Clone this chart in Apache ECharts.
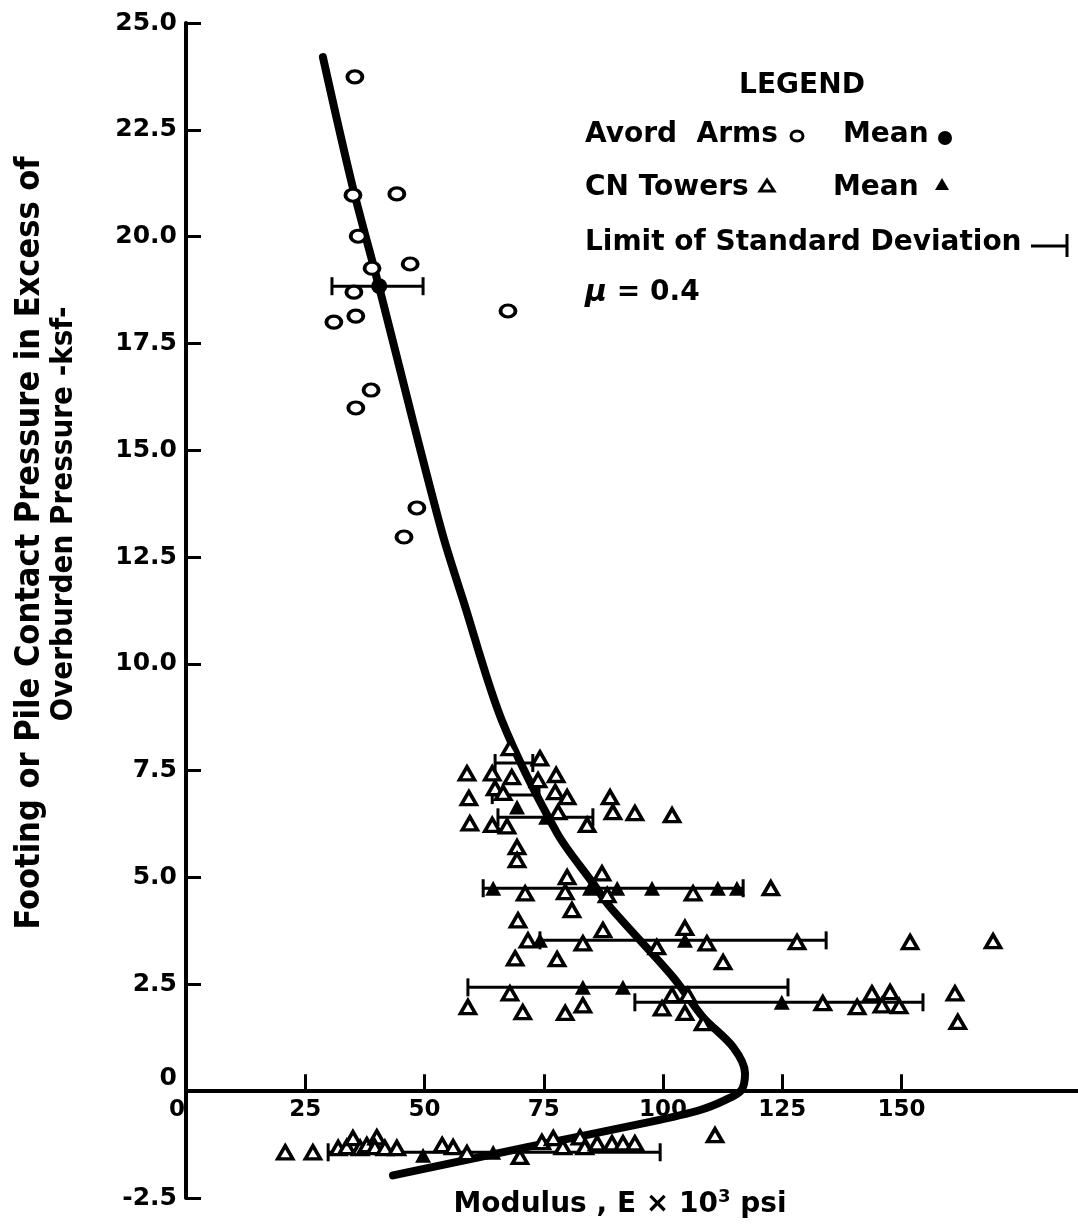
<!DOCTYPE html>
<html>
<head>
<meta charset="utf-8">
<script src="https://cdn.jsdelivr.net/npm/echarts@6/dist/echarts.min.js"></script>
<style>
html, body { margin: 0; padding: 0; background: #fff; }
#chart { width: 1078px; height: 1230px; }
</style>
</head>
<body>
<div id="chart"></div>
<script>
// Avord Arms - open circles
var avordX = [35.4, 35.0, 44.2, 36.1, 39.0, 47.0, 35.2, 35.6, 31.0, 67.5, 38.8, 35.6, 48.4, 45.7];
var avordY = [23.74, 20.97, 21.0, 20.01, 19.26, 19.36, 18.70, 18.14, 18.0, 18.26, 16.41, 15.99, 13.65, 12.97];
var avordMeanX = [40.5];
var avordMeanY = [18.84];

// CN Towers - open triangles
var cnX = [67.9, 74.2, 58.9, 64.2, 68.3, 73.8, 77.6, 59.3, 64.8, 66.5, 77.4, 79.9, 88.9, 78.0, 89.5, 94.1, 101.9,
  59.5, 64.2, 67.3, 84.1, 69.4, 69.4, 79.9, 87.2,
  71.1, 79.5, 88.3, 106.3, 122.6, 80.9, 69.6,
  71.7, 83.2, 87.4, 98.7, 104.6, 109.2, 128.1, 151.8, 169.2, 112.6, 69.0, 77.8,
  67.9, 59.1, 70.6, 79.5, 83.2, 101.9, 105.2, 99.8, 104.6, 108.4,
  133.5, 140.7, 143.8, 145.9, 147.6, 149.5, 161.2, 161.8,
  20.8, 26.6, 31.9, 33.7, 35.0, 36.5, 37.9, 40.0, 39.6, 41.7, 44.2, 53.7, 56.0, 58.9,
  70.0, 74.6, 77.0, 79.0, 82.6, 83.6, 86.2, 89.3, 91.6, 94.1, 110.9];
var cnY = [8.03, 7.79, 7.44, 7.44, 7.35, 7.28, 7.40, 6.86, 7.09, 6.98, 7.00, 6.88, 6.88, 6.53, 6.53, 6.51, 6.46,
  6.27, 6.23, 6.20, 6.23, 5.71, 5.41, 5.01, 5.10,
  4.63, 4.66, 4.59, 4.63, 4.75, 4.24, 4.00,
  3.53, 3.46, 3.77, 3.37, 3.82, 3.46, 3.49, 3.49, 3.51, 3.02, 3.11, 3.09,
  2.29, 1.97, 1.85, 1.83, 2.01, 2.25, 2.25, 1.94, 1.83, 1.59,
  2.06, 1.97, 2.29, 2.01, 2.32, 1.99, 2.29, 1.62,
  -1.43, -1.43, -1.33, -1.31, -1.10, -1.33, -1.26, -1.08, -1.31, -1.33, -1.33, -1.26, -1.31, -1.45,
  -1.54, -1.19, -1.10, -1.31, -1.08, -1.31, -1.22, -1.22, -1.22, -1.22, -1.03];

// CN Towers - means and points sitting on the bars (drawn solid)
var cnMeanX = [75.5, 90.4, 104.6, 91.6, 124.9, 64.4, 69.4, 64.4, 84.7, 97.7, 111.5, 115.5, 74.2, 83.2, 49.7];
var cnMeanY = [6.41, 4.75, 3.53, 2.43, 2.08, -1.43, 6.65, 4.75, 4.75, 4.75, 4.75, 4.75, 3.53, 2.43, -1.50];

// limit of standard deviation bars
var barY = [18.84, 7.68, 6.93, 6.41, 4.75, 3.53, 2.43, 2.08, -1.43];
var barLow = [30.6, 64.8, 64.2, 65.4, 62.3, 74.2, 59.1, 94.1, 29.8];
var barHigh = [49.7, 72.7, 74.0, 85.3, 116.8, 134.2, 126.2, 154.5, 99.4];

// fitted curve, read top to bottom
var curveX = [28.7, 34.8, 40.7, 47.6, 53.9, 58.1, 66.2, 77.8, 85.3, 88.9, 102.1, 108.4, 114.7, 117.2, 116.4, 113.0, 107.8, 97.3, 71.5, 43.4];
var curveY = [24.2, 21.23, 18.73, 15.68, 12.99, 11.49, 8.68, 6.04, 4.87, 4.31, 2.67, 1.73, 1.03, 0.42, 0.02, -0.21, -0.44, -0.72, -1.31, -1.97];

var xLabelVals = [0, 25, 50, 75, 100, 125, 150];
var xTickVals = [25, 50, 75, 100, 125, 150];

function pairs(xs, ys) {
  return xs.map(function (x, i) { return [x, ys[i]]; });
}

var font = 'DejaVu Sans';
var black = '#000';

var myChart = echarts.init(document.getElementById('chart'));

var option = {
  backgroundColor: '#fff',
  animation: false,
  grid: { left: 186, right: 0, top: 23, bottom: 32 },
  xAxis: {
    type: 'value',
    min: 0,
    max: 187,
    z: 10,
    splitLine: { show: false },
    axisLine: { onZero: true, lineStyle: { color: black, width: 4 } },
    axisTick: { inside: true, length: 17, customValues: xTickVals, lineStyle: { color: black, width: 3 } },
    axisLabel: {
      customValues: xLabelVals,
      margin: -99, // labels hang under the zero line, not the grid edge
      color: black,
      fontFamily: font,
      fontWeight: 'bold',
      fontSize: 23,
      formatter: function (v) { return v === 0 ? '{z|0}' : String(v); },
      rich: { z: { padding: [0, 18, 0, 0], fontFamily: font, fontWeight: 'bold', fontSize: 23, color: black } }
    }
  },
  yAxis: {
    type: 'value',
    min: -2.5,
    max: 25,
    interval: 2.5,
    splitLine: { show: false },
    axisLine: { lineStyle: { color: black, width: 4 } },
    axisTick: { inside: true, length: 15, lineStyle: { color: black, width: 3 } },
    axisLabel: {
      margin: 9,
      color: black,
      fontFamily: font,
      fontWeight: 'bold',
      fontSize: 25,
      formatter: function (v) { return v === 0 ? '{z|0}' : v.toFixed(1); },
      rich: { z: { padding: [0, 0, 26, 0], fontFamily: font, fontWeight: 'bold', fontSize: 25, color: black } }
    }
  },
  series: [
    {
      name: 'curve',
      type: 'line',
      smooth: 0.3,
      showSymbol: false,
      z: 2,
      lineStyle: { color: black, width: 8, cap: 'round' },
      data: pairs(curveX, curveY)
    },
    {
      name: 'sd',
      type: 'custom',
      z: 3,
      encode: { x: [1, 2], y: 0 },
      renderItem: function (params, api) {
        var y = api.value(0);
        var a = api.coord([api.value(1), y]);
        var b = api.coord([api.value(2), y]);
        var h = 9;
        var st = { stroke: black, lineWidth: 3 };
        return {
          type: 'group',
          children: [
            { type: 'line', shape: { x1: a[0], y1: a[1], x2: b[0], y2: b[1] }, style: st },
            { type: 'line', shape: { x1: a[0], y1: a[1] - h, x2: a[0], y2: a[1] + h }, style: st },
            { type: 'line', shape: { x1: b[0], y1: b[1] - h, x2: b[0], y2: b[1] + h }, style: st }
          ]
        };
      },
      data: barY.map(function (y, i) { return [y, barLow[i], barHigh[i]]; })
    },
    {
      name: 'Avord Arms',
      type: 'scatter',
      z: 4,
      symbol: 'circle',
      symbolSize: [15, 12],
      itemStyle: { color: '#fff', borderColor: black, borderWidth: 3.5, opacity: 1 },
      data: pairs(avordX, avordY)
    },
    {
      name: 'Avord Mean',
      type: 'scatter',
      z: 5,
      symbol: 'circle',
      symbolSize: 16,
      itemStyle: { color: black, opacity: 1 },
      data: pairs(avordMeanX, avordMeanY)
    },
    {
      name: 'CN Towers',
      type: 'scatter',
      z: 4,
      symbol: 'triangle',
      symbolSize: [15, 13],
      itemStyle: { color: '#fff', borderColor: black, borderWidth: 3.5, opacity: 1 },
      data: pairs(cnX, cnY)
    },
    {
      name: 'CN Mean',
      type: 'scatter',
      z: 5,
      symbol: 'triangle',
      symbolSize: [16, 15],
      itemStyle: { color: black, opacity: 1 },
      data: pairs(cnMeanX, cnMeanY)
    }
  ],
  graphic: [
    // y axis title
    {
      type: 'text', x: 30, y: 543, rotation: Math.PI / 2,
      style: { text: 'Footing or Pile Contact Pressure in Excess of', fill: black,
        font: 'bold 34px "DejaVu Sans Condensed", "DejaVu Sans"', textAlign: 'center', textVerticalAlign: 'middle' }
    },
    {
      type: 'text', x: 64, y: 514, rotation: Math.PI / 2,
      style: { text: 'Overburden Pressure -ksf-', fill: black,
        font: 'bold 31px "DejaVu Sans Condensed", "DejaVu Sans"', textAlign: 'center', textVerticalAlign: 'middle' }
    },
    // x axis title
    {
      type: 'text', x: 620, y: 1205,
      style: {
        text: '{a|Modulus , E × 10}{s|3}{a| psi}',
        textAlign: 'center', textVerticalAlign: 'middle',
        rich: {
          a: { fontFamily: font, fontWeight: 'bold', fontSize: 28, fill: black },
          s: { fontFamily: font, fontWeight: 'bold', fontSize: 18, fill: black, padding: [0, 0, 16, 0] }
        }
      }
    },
    // legend block
    { type: 'text', x: 802, y: 86, style: { text: 'LEGEND', fill: black, font: 'bold 28px "DejaVu Sans"', textAlign: 'center', textVerticalAlign: 'middle' } },
    { type: 'text', x: 585, y: 135, style: { text: 'Avord  Arms', fill: black, font: 'bold 28px "DejaVu Sans"', textVerticalAlign: 'middle' } },
    { type: 'ellipse', shape: { cx: 797, cy: 136, rx: 6, ry: 5 }, style: { fill: '#fff', stroke: black, lineWidth: 3 } },
    { type: 'text', x: 843, y: 135, style: { text: 'Mean', fill: black, font: 'bold 28px "DejaVu Sans"', textVerticalAlign: 'middle' } },
    { type: 'circle', shape: { cx: 945, cy: 138, r: 7 }, style: { fill: black } },
    { type: 'text', x: 585, y: 188, style: { text: 'CN Towers', fill: black, font: 'bold 28px "DejaVu Sans"', textVerticalAlign: 'middle' } },
    { type: 'polygon', shape: { points: [[767, 180], [774, 191], [760, 191]] }, style: { fill: '#fff', stroke: black, lineWidth: 3 } },
    { type: 'text', x: 833, y: 188, style: { text: 'Mean', fill: black, font: 'bold 28px "DejaVu Sans"', textVerticalAlign: 'middle' } },
    { type: 'polygon', shape: { points: [[942, 178], [949, 190], [935, 190]] }, style: { fill: black } },
    { type: 'text', x: 585, y: 243, style: { text: 'Limit of Standard Deviation', fill: black, font: 'bold 28px "DejaVu Sans"', textVerticalAlign: 'middle' } },
    { type: 'line', shape: { x1: 1031, y1: 246, x2: 1067, y2: 246 }, style: { stroke: black, lineWidth: 3 } },
    { type: 'line', shape: { x1: 1067, y1: 234, x2: 1067, y2: 257 }, style: { stroke: black, lineWidth: 3 } },
    {
      type: 'text', x: 585, y: 293,
      style: {
        text: '{m|μ} = 0.4', textVerticalAlign: 'middle',
        font: 'bold 28px "DejaVu Sans"', fill: black,
        rich: { m: { fontFamily: font, fontWeight: 'bold', fontStyle: 'italic', fontSize: 30, fill: black } }
      }
    }
  ]
};

myChart.setOption(option);
</script>
</body>
</html>
